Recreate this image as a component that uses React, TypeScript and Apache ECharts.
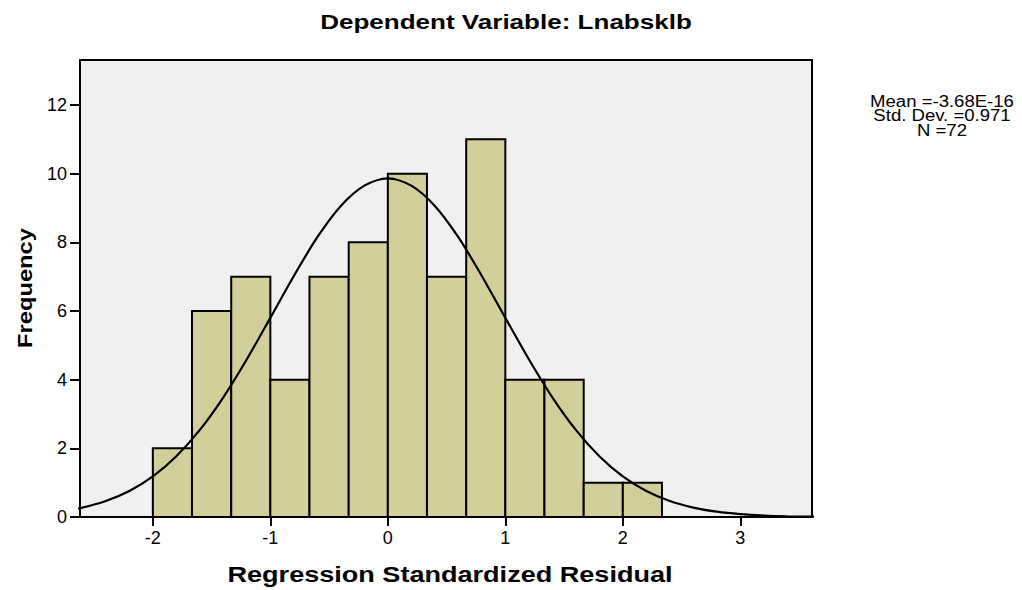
import React, { useEffect, useRef } from "react";
import * as echarts from "echarts";

const binEdges = [-2, -1.667, -1.333, -1, -0.667, -0.333, 0, 0.333, 0.667, 1, 1.333, 1.667, 2, 2.333];
const counts = [2, 6, 7, 4, 7, 8, 10, 7, 11, 4, 4, 1, 1];
const curveX = [-2.8, -2.6, -2.4, -2.2, -2.0, -1.8, -1.6, -1.4, -1.2, -1.0, -0.8, -0.6, -0.4, -0.2, 0, 0.2, 0.4, 0.6, 0.8, 1.0, 1.2, 1.4, 1.6, 1.8, 2.0, 2.2, 2.4, 2.6, 2.8, 3.0, 3.2, 3.4, 3.6, 3.8];
const curveY = [0.154, 0.274, 0.465, 0.757, 1.182, 1.769, 2.537, 3.487, 4.595, 5.8, 7.02, 8.15, 9.06, 9.65, 9.86, 9.65, 9.06, 8.15, 7.02, 5.8, 4.595, 3.487, 2.537, 1.769, 1.182, 0.757, 0.465, 0.274, 0.154, 0.083, 0.043, 0.021, 0.01, 0.003];
const xTicks = [-2, -1, 0, 1, 2, 3];
const yTicks = [0, 2, 4, 6, 8, 10, 12];
const statsLines = ["Mean =-3.68E-16", "Std. Dev. =0.971", "N =72"];
const titleText = "Dependent Variable: Lnabsklb";
const xName = "Regression Standardized Residual";
const yName = "Frequency";

const FONT = "'Liberation Sans', Arial, sans-serif";

export default function App() {
  const ref = useRef<HTMLDivElement>(null);
  useEffect(() => {
    if (!ref.current) return;
    const chart = echarts.init(ref.current, undefined, { renderer: "svg" });
    const barData = counts.map((c, i) => [binEdges[i], binEdges[i + 1], c]);
    const curveData = curveX.map((x, i) => [x, curveY[i]]);
    chart.setOption({
      animation: false,
      backgroundColor: "#ffffff",
      grid: {
        left: 80,
        right: 210,
        top: 60,
        bottom: 73,
        show: true,
        backgroundColor: "#f0f0f0",
        borderColor: "#000",
        borderWidth: 2,
      },
      xAxis: {
        type: "value",
        min: -2.62,
        max: 3.61,
        splitLine: { show: false },
        axisLine: { show: true, onZero: false, lineStyle: { color: "#000", width: 2 } },
        axisTick: { show: true, customValues: xTicks, length: 9, lineStyle: { color: "#000", width: 2 } },
        axisLabel: { customValues: xTicks, color: "#000", fontSize: 18, fontFamily: FONT, margin: 12 },
      },
      yAxis: {
        type: "value",
        min: 0,
        max: 13.31,
        splitLine: { show: false },
        axisLine: { show: true, onZero: false, lineStyle: { color: "#000", width: 2 } },
        axisTick: { show: true, customValues: yTicks, length: 10, lineStyle: { color: "#000", width: 2 } },
        axisLabel: { customValues: yTicks, color: "#000", fontSize: 18, fontFamily: FONT, margin: 13 },
      },
      series: [
        {
          type: "custom",
          data: barData,
          encode: { x: [0, 1], y: 2 },
          renderItem: (params: any, api: any) => {
            const p0 = api.coord([api.value(0), api.value(2)]);
            const p1 = api.coord([api.value(1), 0]);
            return {
              type: "rect",
              shape: { x: p0[0], y: p0[1], width: p1[0] - p0[0], height: p1[1] - p0[1] },
              style: { fill: "#d3cf9a", stroke: "#000", lineWidth: 2 },
            };
          },
          z: 2,
        },
        {
          type: "line",
          data: curveData,
          smooth: 0.3,
          showSymbol: false,
          symbol: "none",
          clip: true,
          lineStyle: { color: "#000", width: 2.2 },
          z: 3,
        },
      ],
      graphic: [
        {
          type: "text",
          x: 506,
          y: 22,
          scaleX: 1.24,
          style: {
            text: titleText,
            font: `bold 21px ${FONT}`,
            fill: "#000",
            align: "center",
            verticalAlign: "middle",
          },
        },
        {
          type: "text",
          x: 450,
          y: 574,
          scaleX: 1.23,
          style: {
            text: xName,
            font: `bold 22px ${FONT}`,
            fill: "#000",
            align: "center",
            verticalAlign: "middle",
          },
        },
        {
          type: "text",
          x: 25,
          y: 288,
          rotation: Math.PI / 2,
          scaleX: 1.13,
          style: {
            text: yName,
            font: `bold 21px ${FONT}`,
            fill: "#000",
            align: "center",
            verticalAlign: "middle",
          },
        },
        ...statsLines.map((t, i) => ({
          type: "text",
          x: 942,
          y: 101 + i * 14.5,
          scaleX: 1.16,
          style: {
            text: t,
            font: `16px ${FONT}`,
            fill: "#000",
            align: "center",
            verticalAlign: "middle",
          },
        })),
      ],
    });
    return () => chart.dispose();
  }, []);
  return <div ref={ref} style={{ width: 1022, height: 590, position: "absolute", left: 0, top: 0 }} />;
}
